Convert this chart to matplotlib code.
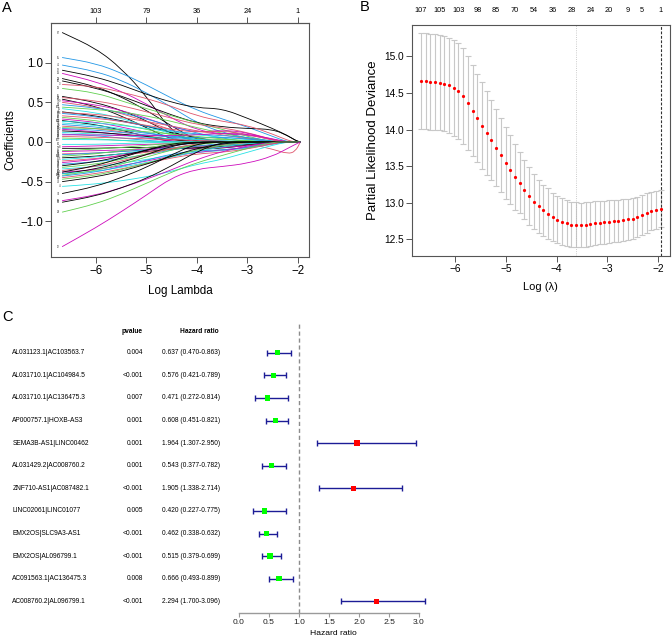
import numpy as np
import matplotlib.pyplot as plt
from matplotlib.path import Path
from matplotlib.patches import PathPatch
from matplotlib.transforms import blended_transform_factory

plt.rcParams['font.family'] = ['Liberation Sans', 'DejaVu Sans']

W, H = 672, 643

# ---- panel A: lasso coefficient paths, values read at these log-lambda knots
path_knots = [-6.67, -6.0, -5.5, -5.0, -4.5, -4.0, -3.5, -3.0, -2.5, -2.2, -2.05, -1.95]
coef_paths = [
    [1.38, 1.18, 0.93, 0.58, 0.12, 0, 0, 0, 0, 0, 0, 0],
    [1.065, 0.99, 0.87, 0.72, 0.55, 0.40, 0.29, 0.19, 0.07, 0, 0, 0],
    [0.97, 0.89, 0.78, 0.62, 0.44, 0.24, 0.12, 0.05, 0, 0, 0, 0],
    [0.905, 0.82, 0.72, 0.60, 0.50, 0.43, 0.42, 0.30, 0.17, 0.08, 0.02, 0],
    [0.865, 0.76, 0.64, 0.48, 0.30, 0.15, 0.10, 0.09, 0.03, 0, 0, 0],
    [0.80, 0.70, 0.57, 0.40, 0.20, 0.02, 0, 0, 0, 0, 0, 0],
    [0.77, 0.68, 0.58, 0.46, 0.34, 0.24, 0.19, 0.17, 0.16, 0.08, 0.02, 0],
    [0.725, 0.70, 0.63, 0.55, 0.45, 0.33, 0.26, 0.21, 0.10, 0.02, 0, 0],
    [0.675, 0.62, 0.52, 0.42, 0.33, 0.24, 0.16, 0.07, 0, 0, 0, 0],
    [0.575, 0.50, 0.40, 0.27, 0.10, 0, 0, 0, 0, 0, 0, 0],
    [0.56, 0.52, 0.46, 0.38, 0.30, 0.22, 0.18, 0.12, 0.03, 0, 0, 0],
    [0.54, 0.45, 0.33, 0.18, 0.03, 0, 0, 0, 0, 0, 0, 0],
    [0.52, 0.47, 0.40, 0.30, 0.19, 0.12, 0.15, 0.12, 0.02, 0, 0, 0],
    [0.50, 0.44, 0.36, 0.26, 0.15, 0.05, 0, 0, 0, 0, 0, 0],
    [0.47, 0.43, 0.37, 0.29, 0.20, 0.11, 0.05, 0, 0, 0, 0, 0],
    [0.44, 0.41, 0.38, 0.33, 0.26, 0.18, 0.11, 0.05, 0, 0, 0, 0],
    [0.42, 0.37, 0.30, 0.20, 0.10, 0.02, 0, 0, 0, 0, 0, 0],
    [0.38, 0.33, 0.27, 0.20, 0.12, 0.05, 0, 0, 0, 0, 0, 0],
    [0.37, 0.35, 0.31, 0.26, 0.20, 0.14, 0.09, 0.04, 0, 0, 0, 0],
    [0.36, 0.32, 0.26, 0.20, 0.14, 0.10, 0.08, 0.06, 0.01, 0, 0, 0],
    [0.33, 0.30, 0.26, 0.21, 0.16, 0.12, 0.14, 0.10, 0.02, 0, 0, 0],
    [0.31, 0.27, 0.22, 0.16, 0.09, 0.04, 0.03, 0.02, 0, 0, 0, 0],
    [0.29, 0.25, 0.19, 0.12, 0.05, 0, 0, 0, 0, 0, 0, 0],
    [0.27, 0.22, 0.15, 0.07, 0, 0, 0, 0, 0, 0, 0, 0],
    [0.26, 0.24, 0.21, 0.17, 0.13, 0.09, 0.06, 0.03, 0, 0, 0, 0],
    [0.24, 0.21, 0.17, 0.12, 0.07, 0.03, 0, 0, 0, 0, 0, 0],
    [0.22, 0.19, 0.15, 0.11, 0.07, 0.05, 0.06, 0.04, 0, 0, 0, 0],
    [0.20, 0.17, 0.13, 0.08, 0.03, 0, 0, 0, 0, 0, 0, 0],
    [0.18, 0.17, 0.15, 0.13, 0.10, 0.07, 0.04, 0.01, 0, 0, 0, 0],
    [0.17, 0.15, 0.12, 0.09, 0.06, 0.03, 0.01, 0, 0, 0, 0, 0],
    [0.16, 0.13, 0.09, 0.05, 0.01, 0, 0, 0, 0, 0, 0, 0],
    [0.14, 0.12, 0.10, 0.07, 0.03, 0, 0, 0, 0, 0, 0, 0],
    [0.12, 0.10, 0.08, 0.06, 0.04, 0.03, 0.02, 0, 0, 0, 0, 0],
    [0.10, 0.08, 0.05, 0.02, 0, 0, 0, 0, 0, 0, 0, 0],
    [0.09, 0.09, 0.08, 0.08, 0.08, 0.09, 0.11, 0.10, 0.04, 0, 0, 0],
    [0.07, 0.06, 0.05, 0.04, 0.03, 0.02, 0.01, 0, 0, 0, 0, 0],
    [0.05, 0.04, 0.02, 0, 0, 0, 0, 0, 0, 0, 0, 0],
    [0.03, 0.03, 0.02, 0.01, 0, 0, 0, 0, 0, 0, 0, 0],
    [-0.03, -0.03, -0.02, -0.01, 0, 0, 0, 0, 0, 0, 0, 0],
    [-0.06, -0.05, -0.04, -0.03, -0.02, -0.01, 0, 0, 0, 0, 0, 0],
    [-0.08, -0.08, -0.07, -0.07, -0.08, -0.09, -0.08, -0.04, 0, 0, 0, 0],
    [-0.11, -0.09, -0.07, -0.04, -0.02, 0, 0, 0, 0, 0, 0, 0],
    [-0.12, -0.11, -0.10, -0.09, -0.08, -0.08, -0.07, -0.05, -0.01, 0, 0, 0],
    [-0.15, -0.14, -0.12, -0.10, -0.08, -0.06, -0.04, -0.02, -0.09, -0.15, -0.12, 0],
    [-0.16, -0.14, -0.12, -0.10, -0.07, -0.05, -0.04, -0.02, 0, 0, 0, 0],
    [-0.18, -0.15, -0.11, -0.07, -0.03, 0, 0, 0, 0, 0, 0, 0],
    [-0.20, -0.18, -0.15, -0.12, -0.09, -0.07, -0.06, -0.03, 0, 0, 0, 0],
    [-0.22, -0.19, -0.15, -0.10, -0.05, -0.01, 0, 0, 0, 0, 0, 0],
    [-0.24, -0.21, -0.17, -0.13, -0.09, -0.05, -0.03, -0.01, 0, 0, 0, 0],
    [-0.26, -0.22, -0.17, -0.11, -0.05, 0, 0, 0, 0, 0, 0, 0],
    [-0.28, -0.25, -0.21, -0.16, -0.10, -0.05, -0.02, 0, 0, 0, 0, 0],
    [-0.30, -0.25, -0.18, -0.10, -0.02, 0, 0, 0, 0, 0, 0, 0],
    [-0.32, -0.28, -0.22, -0.15, -0.08, -0.03, 0, 0, 0, 0, 0, 0],
    [-0.34, -0.31, -0.27, -0.22, -0.17, -0.13, -0.11, -0.08, -0.03, 0, 0, 0],
    [-0.36, -0.31, -0.24, -0.16, -0.08, -0.02, 0, 0, 0, 0, 0, 0],
    [-0.38, -0.35, -0.30, -0.24, -0.18, -0.13, -0.10, -0.07, -0.02, 0, 0, 0],
    [-0.38, -0.30, -0.20, -0.10, -0.04, -0.01, 0, 0, 0, 0, 0, 0],
    [-0.40, -0.34, -0.26, -0.16, -0.05, 0, 0, 0, 0, 0, 0, 0],
    [-0.40, -0.37, -0.32, -0.26, -0.19, -0.12, -0.06, -0.02, 0, 0, 0, 0],
    [-0.42, -0.36, -0.28, -0.19, -0.10, -0.03, 0, 0, 0, 0, 0, 0],
    [-0.43, -0.38, -0.31, -0.23, -0.15, -0.11, -0.10, -0.07, 0, 0, 0, 0],
    [-0.45, -0.40, -0.34, -0.27, -0.20, -0.15, -0.13, -0.09, -0.02, 0, 0, 0],
    [-0.47, -0.42, -0.35, -0.27, -0.18, -0.10, -0.04, 0, 0, 0, 0, 0],
    [-0.50, -0.44, -0.37, -0.28, -0.18, -0.08, -0.02, 0, 0, 0, 0, 0],
    [-0.56, -0.53, -0.49, -0.44, -0.37, -0.28, -0.22, -0.13, -0.04, 0, 0, 0],
    [-0.65, -0.56, -0.45, -0.32, -0.16, -0.02, 0, 0, 0, 0, 0, 0],
    [-0.74, -0.67, -0.58, -0.47, -0.35, -0.22, -0.12, -0.05, 0, 0, 0, 0],
    [-0.76, -0.68, -0.58, -0.46, -0.30, -0.12, 0, 0, 0, 0, 0, 0],
    [-0.885, -0.78, -0.66, -0.52, -0.38, -0.26, -0.17, -0.08, 0, 0, 0, 0],
    [-1.32, -1.08, -0.88, -0.67, -0.45, -0.34, -0.31, -0.27, -0.18, -0.08, -0.03, 0],
]
path_labels = [87, 55, 41, 52, 53, 93, 50, 3, 58, 96, 27, 64, 9, 71, 38, 101, 15, 44, 82, 6,
               29, 67, 90, 21, 103, 48, 11, 76, 33, 60, 2, 99, 18, 45, 85, 24, 69, 107, 36, 8,
               92, 57, 14, 79, 31, 104, 62, 5, 88, 40, 73, 20, 97, 47, 26, 65, 1, 83, 35, 108,
               16, 54, 78, 43, 4, 74, 63, 30, 94, 12]
top_a_ticks = [-6, -5, -4, -3, -2]
top_a_labels = ['103', '79', '36', '24', '1']

# ---- panel B: cross-validation curve
log_lambda = [-6.670, -6.577, -6.485, -6.392, -6.300, -6.207, -6.115, -6.022, -5.930, -5.837,
              -5.745, -5.652, -5.559, -5.467, -5.374, -5.282, -5.189, -5.097, -5.004, -4.912,
              -4.819, -4.727, -4.634, -4.541, -4.449, -4.356, -4.264, -4.171, -4.079, -3.986,
              -3.894, -3.801, -3.708, -3.616, -3.523, -3.431, -3.338, -3.246, -3.153, -3.061,
              -2.968, -2.876, -2.783, -2.690, -2.598, -2.505, -2.413, -2.320, -2.228, -2.135,
              -2.043, -1.950]
cv_mean = [14.663, 14.658, 14.653, 14.649, 14.640, 14.626, 14.603, 14.571, 14.526, 14.457,
           14.360, 14.260, 14.156, 14.055, 13.955, 13.855, 13.753, 13.649, 13.544, 13.452,
           13.356, 13.270, 13.174, 13.092, 13.014, 12.950, 12.896, 12.850, 12.804, 12.767,
           12.740, 12.718, 12.700, 12.695, 12.695, 12.700, 12.708, 12.718, 12.726, 12.731,
           12.740, 12.750, 12.753, 12.763, 12.772, 12.780, 12.800, 12.827, 12.859, 12.886,
           12.904, 12.918]
cv_se = [0.655, 0.657, 0.655, 0.653, 0.652, 0.652, 0.652, 0.655, 0.657, 0.655,
         0.642, 0.623, 0.605, 0.589, 0.571, 0.550, 0.530, 0.507, 0.491, 0.468,
         0.450, 0.418, 0.404, 0.393, 0.377, 0.360, 0.352, 0.345, 0.333, 0.324,
         0.322, 0.313, 0.310, 0.308, 0.306, 0.304, 0.302, 0.300, 0.298, 0.295,
         0.292, 0.289, 0.286, 0.283, 0.280, 0.277, 0.274, 0.271, 0.268, 0.265,
         0.261, 0.258]
nz_index = [0, 4, 8, 12, 16, 20, 24, 28, 32, 36, 40, 44, 47, 51]
nz_counts = ['107', '105', '103', '98', '85', '70', '54', '36', '28', '24', '20', '9', '5', '1']
lambda_min = -3.616
lambda_1se = -1.950

# ---- panel C: multivariate Cox forest plot
genes = ['AL031123.1|AC103563.7', 'AL031710.1|AC104984.5', 'AL031710.1|AC136475.3',
         'AP000757.1|HOXB-AS3', 'SEMA3B-AS1|LINC00462', 'AL031429.2|AC008760.2',
         'ZNF710-AS1|AC087482.1', 'LINC02061|LINC01077', 'EMX2OS|SLC9A3-AS1',
         'EMX2OS|AL096799.1', 'AC091563.1|AC136475.3', 'AC008760.2|AL096799.1']
pvalues = ['0.004', '<0.001', '0.007', '0.001', '0.001', '0.001',
           '<0.001', '0.005', '<0.001', '<0.001', '0.008', '<0.001']
hr = [0.637, 0.576, 0.471, 0.608, 1.964, 0.543, 1.905, 0.420, 0.462, 0.515, 0.666, 2.294]
hr_low = [0.470, 0.421, 0.272, 0.451, 1.307, 0.377, 1.338, 0.227, 0.338, 0.379, 0.493, 1.700]
hr_high = [0.863, 0.789, 0.814, 0.821, 2.950, 0.782, 2.714, 0.775, 0.632, 0.699, 0.899, 3.096]

# styles
palette = {'k': 'black', 'r': '#DF536B', 'g': '#61D04F', 'b': '#2297E6',
           'c': '#28E2E5', 'm': '#CD0BBC'}
path_colors = 'kbbkmkkrgkrkmrbgckrbrgmkccbrgbmkcbmrgc' + 'cmkgmrbgkcrmbkgcrmkkcgbrgkckmkgm'
frame_col = '#555555'


def box(l, t, r, b):
    return [l / W, 1 - b / H, (r - l) / W, (b - t) / H]


def frame(ax):
    for s in ax.spines.values():
        s.set_color(frame_col)
        s.set_linewidth(0.8)


def smooth(xs, ys):
    # quadratic curve through the knots' midpoints, so the paths bend instead of kinking
    pts = list(zip(xs, ys))
    mids = [((a[0] + b[0]) / 2, (a[1] + b[1]) / 2) for a, b in zip(pts[:-1], pts[1:])]
    verts = [pts[0], mids[0]]
    codes = [Path.MOVETO, Path.LINETO]
    for i in range(1, len(pts) - 1):
        verts += [pts[i], mids[i]]
        codes += [Path.CURVE3, Path.CURVE3]
    verts.append(pts[-1])
    codes.append(Path.LINETO)
    return Path(verts, codes)


fig = plt.figure(figsize=(W / 100, H / 100), dpi=100)

# ---------------- A
axA = fig.add_axes(box(51, 23, 309, 257))
for vals, c, lab in zip(coef_paths, path_colors, path_labels):
    axA.add_patch(PathPatch(smooth(path_knots, vals), facecolor='none',
                            edgecolor=palette[c], lw=0.6))
    axA.text(path_knots[0] - 0.04, vals[0], str(lab), fontsize=1.9, ha='right', va='center',
             color='#333333')
axA.set_xlim(-6.89, -1.78)
axA.set_ylim(-1.45, 1.50)
axA.set_xticks([-6, -5, -4, -3, -2])
axA.set_yticks([-1.0, -0.5, 0.0, 0.5, 1.0])
axA.set_yticklabels(['\u22121.0', '\u22120.5', '0.0', '0.5', '1.0'])
axA.tick_params(direction='out', length=4, width=0.7, color=frame_col, labelsize=8.3, pad=1.5)
axA.set_xlabel('Log Lambda', fontsize=8.4, labelpad=6)
axA.set_ylabel('Coefficients', fontsize=8.4, labelpad=3)
frame(axA)
topA = axA.secondary_xaxis('top')
topA.set_xticks(top_a_ticks, top_a_labels)
topA.tick_params(direction='out', length=4, width=0.7, color=frame_col, labelsize=5.3, pad=2)
topA.spines['top'].set_color(frame_col)

# ---------------- B
axB = fig.add_axes(box(411.7, 25, 670, 256))
axB.errorbar(log_lambda, cv_mean, yerr=cv_se, fmt='none', ecolor='#C8C8C8',
             elinewidth=0.8, capsize=2.0, capthick=0.8)
axB.plot(log_lambda, cv_mean, 'o', color='red', ms=2.3, mec='none', zorder=3)
axB.axvline(lambda_min, color='#BBBBBB', ls=':', lw=0.6)
axB.axvline(lambda_1se, color='#333333', ls=(0, (2.5, 1.5)), lw=0.8)
axB.set_xlim(-6.85, -1.77)
axB.set_ylim(12.27, 15.43)
axB.set_xticks([-6, -5, -4, -3, -2])
axB.set_yticks([12.5, 13.0, 13.5, 14.0, 14.5, 15.0])
axB.set_yticklabels(['12.5', '13.0', '13.5', '14.0', '14.5', '15.0'])
axB.tick_params(direction='out', length=4, width=0.7, color=frame_col, labelsize=7.3, pad=1.5)
axB.set_xlabel('Log (\u03bb)', fontsize=8, labelpad=6)
axB.set_ylabel('Partial Likelihood Deviance', fontsize=9.5, labelpad=4)
frame(axB)
topB = axB.secondary_xaxis('top')
topB.set_xticks([log_lambda[i] for i in nz_index], nz_counts)
topB.tick_params(length=0, labelsize=5.3, pad=8)
topB.spines['top'].set_visible(False)

# ---------------- C
axC = fig.add_axes(box(236, 322, 431, 612.7))
rows = np.arange(len(genes))
ci_col = '#1C1C96'
axC.axvline(1, color='#8C8C8C', ls=(0, (3, 2)), lw=1.0, zorder=1)
axC.hlines(rows, hr_low, hr_high, color=ci_col, lw=1.0, zorder=2)
axC.plot(hr_low, rows, ls='none', marker='|', ms=5, mew=1.0, color=ci_col, zorder=2)
axC.plot(hr_high, rows, ls='none', marker='|', ms=5, mew=1.0, color=ci_col, zorder=2)
box_cols = ['#00FF00' if h < 1 else '#FF0000' for h in hr]
axC.scatter(hr, rows, marker='s', s=15, c=box_cols, zorder=3, linewidths=0)
axC.set_xlim(-0.05, 3.2)
axC.set_ylim(11.5, -1.36)
for s in ['top', 'right', 'left']:
    axC.spines[s].set_visible(False)
axC.spines['bottom'].set_color('#9A9A9A')
axC.spines['bottom'].set_linewidth(1.0)
axC.spines['bottom'].set_bounds(0, 3)
axC.set_yticks([])
axC.set_xticks([0, 0.5, 1.0, 1.5, 2.0, 2.5, 3.0])
axC.set_xticklabels(['0.0', '0.5', '1.0', '1.5', '2.0', '2.5', '3.0'])
axC.tick_params(axis='x', direction='out', length=3, width=0.8, color='#9A9A9A',
                labelsize=6.1, pad=1.5, labelcolor='#222222')
axC.set_xlabel('Hazard ratio', fontsize=6.1, labelpad=3)

tr = blended_transform_factory(fig.transFigure, axC.transData)
tsize = 4.8
axC.text(143 / W, -0.96, 'pvalue', transform=tr, ha='right', va='center',
         fontsize=tsize, weight='bold')
axC.text(219 / W, -0.96, 'Hazard ratio', transform=tr, ha='right', va='center',
         fontsize=tsize, weight='bold')
for i, g in enumerate(genes):
    axC.text(12.3 / W, i, g, transform=tr, ha='left', va='center', fontsize=tsize)
    axC.text(143 / W, i, pvalues[i], transform=tr, ha='right', va='center', fontsize=tsize)
    axC.text(220 / W, i, f'{hr[i]:.3f} ({hr_low[i]:.3f}-{hr_high[i]:.3f})', transform=tr,
             ha='right', va='center', fontsize=tsize)

# panel letters
fig.text(2 / W, 1 - 8 / H, 'A', fontsize=10.5, va='center', ha='left')
fig.text(360 / W, 1 - 7 / H, 'B', fontsize=10.5, va='center', ha='left')
fig.text(2 / W, 1 - 317 / H, 'C', fontsize=10.5, va='center', ha='left')

fig.savefig('out.png', dpi=100)
